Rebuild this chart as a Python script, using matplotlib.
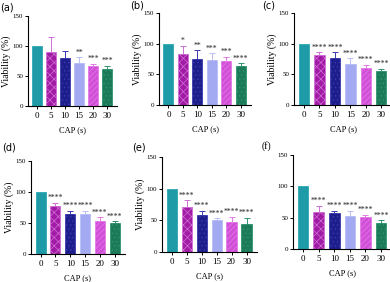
import matplotlib.pyplot as plt
import numpy as np

# data
doses = ["0", "5", "10", "15", "20", "30"]
panels = ["(a)", "(b)", "(c)", "(d)", "(e)", "(f)"]

vals_a = [100, 90, 80, 72, 66, 61]
vals_b = [100, 83, 75, 73, 71, 63]
vals_c = [100, 82, 77, 67, 61, 56]
vals_d = [100, 77, 65, 64, 54, 50]
vals_e = [100, 71, 59, 50, 47, 44]
vals_f = [100, 59, 57, 52, 51, 41]

err_a = [0, 25, 12, 9, 4, 6]
err_b = [0, 14, 14, 11, 8, 5]
err_c = [0, 4, 9, 9, 5, 3]
err_d = [0, 6, 5, 6, 5, 3]
err_e = [0, 11, 6, 3, 9, 10]
err_f = [0, 10, 4, 9, 4, 5]

stars_a = ["", "", "", "**", "***", "***"]
stars_b = ["", "*", "**", "***", "***", "****"]
stars_c = ["", "****", "****", "****", "****", "****"]
stars_d = ["", "****", "****", "****", "****", "****"]
stars_e = ["", "****", "****", "****", "****", "****"]
stars_f = ["", "****", "****", "****", "****", "****"]

all_vals = [vals_a, vals_b, vals_c, vals_d, vals_e, vals_f]
all_errs = [err_a, err_b, err_c, err_d, err_e, err_f]
all_stars = [stars_a, stars_b, stars_c, stars_d, stars_e, stars_f]

face = ["#1e9ba6", "#a21ba4", "#1d1d8c", "#a3aaf2", "#d24fd8", "#1b7a58"]
edge = ["#2aa9b4", "#d070d6", "#3a3ab0", "#b8bef7", "#e27be6", "#2f9470"]
hatches = [None, "xxxx", "....", None, "//////", "...."]

# axes boxes in pixels: left, right, y of 150, y of 0
W, H = 390, 282
boxes = [(28, 117, 15.7, 106), (159, 251, 13, 105), (294, 392, 13, 105),
         (31, 125, 161, 254), (162, 257, 157, 252), (293, 392, 155, 249)]
# panel letter spots in pixels
label_xy = [(0, 7), (130, 5), (262, 6), (2, 147), (132, 147), (262, 146)]

plt.rcParams["hatch.linewidth"] = 0.5
fig = plt.figure(figsize=(W / 100, H / 100), dpi=100)
serif = "Liberation Serif"

for i in range(6):
    l, r, t, b = boxes[i]
    ax = fig.add_axes([l / W, 1 - b / H, (r - l) / W, (b - t) / H])
    x = np.arange(len(doses))
    vals = all_vals[i]
    errs = all_errs[i]
    for j in range(len(doses)):
        ax.bar(x[j], vals[j], width=0.68, color=face[j], edgecolor=edge[j],
               linewidth=0.6, hatch=hatches[j], zorder=2)
        if errs[j] > 0:
            ax.errorbar(x[j], vals[j], yerr=[[0], [errs[j]]], color=edge[j],
                        capsize=2.2, elinewidth=0.7, capthick=0.7, zorder=1)
        if all_stars[i][j]:
            ax.text(x[j], vals[j] + errs[j] + 1, all_stars[i][j], ha="center",
                    va="bottom", fontsize=5.5, family=serif, color="#222222")
    ax.set_xlim(-0.65, 5.7)
    ax.set_ylim(0, 150)
    ax.set_yticks([0, 50, 100, 150])
    ax.set_xticks(x)
    ax.set_xticklabels(doses)
    for s in ["top", "right"]:
        ax.spines[s].set_visible(False)
    ax.spines["left"].set_linewidth(0.8)
    ax.spines["bottom"].set_linewidth(0.8)
    ax.tick_params(axis="y", labelsize=5, length=2.5, width=0.7, pad=1)
    ax.tick_params(axis="x", labelsize=6.5, length=2.5, width=0.7, pad=2)
    for lab in ax.get_xticklabels() + ax.get_yticklabels():
        lab.set_family(serif)
    ax.set_xlabel("CAP (s)", fontsize=6, family=serif, labelpad=4)
    if i != 5:
        ax.set_ylabel("Viability (%)", fontsize=7, family=serif, labelpad=1)
    lx, ly = label_xy[i]
    fig.text(lx / W, 1 - ly / H, panels[i], fontsize=7,
             family="DejaVu Sans" if i != 5 else serif, ha="left", va="center")

fig.savefig("out.png", dpi=100)
